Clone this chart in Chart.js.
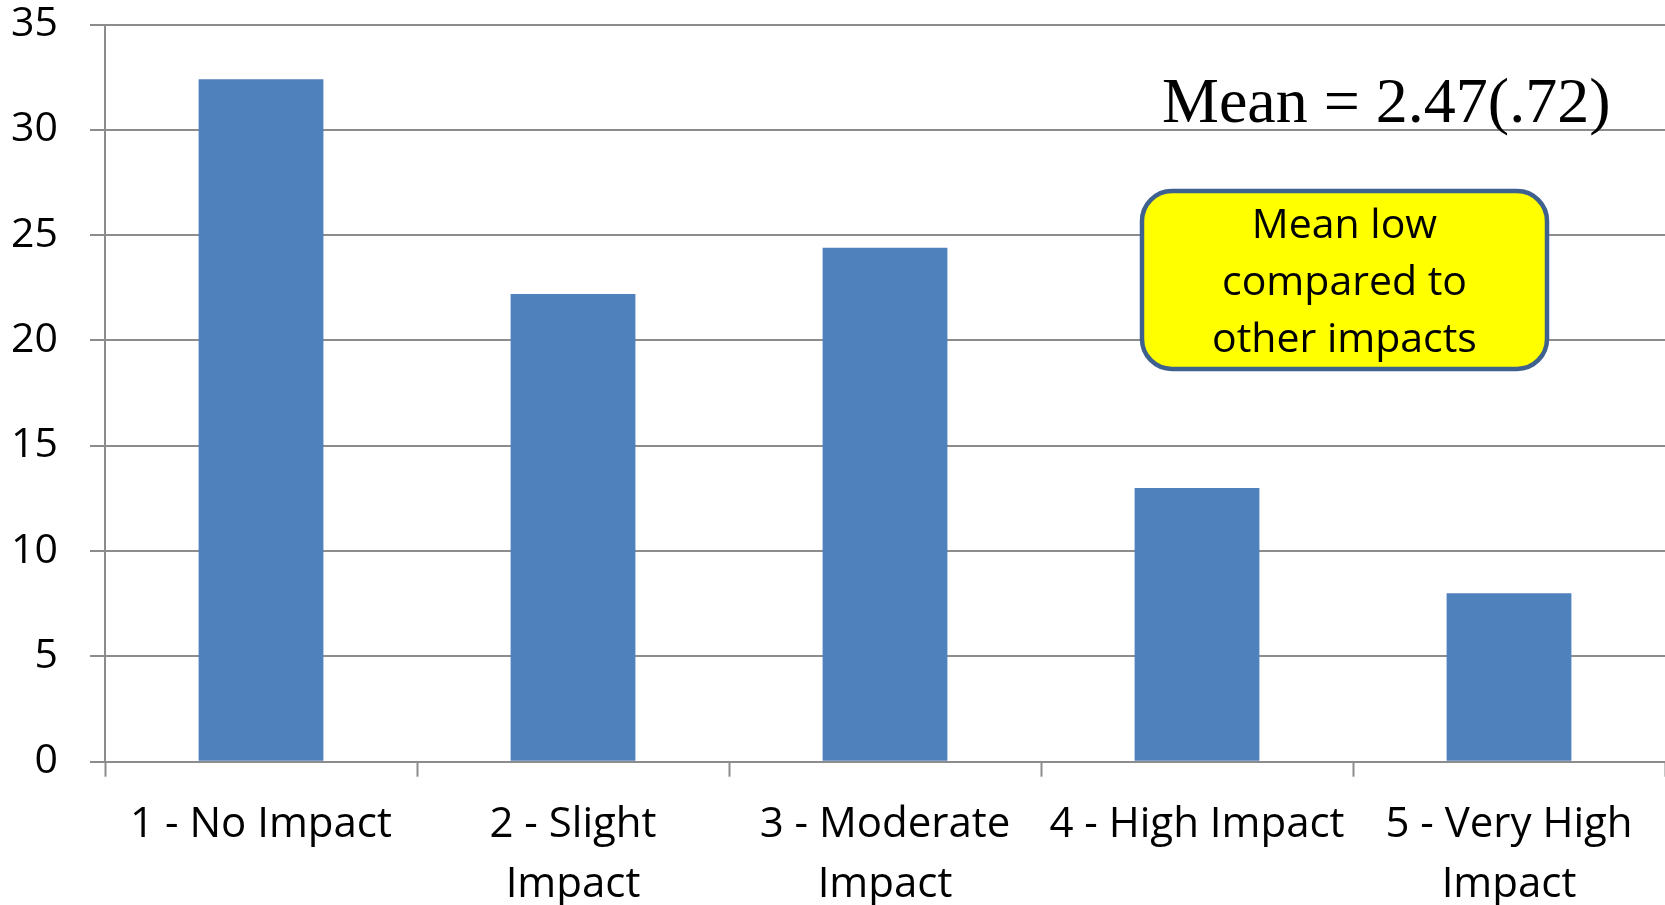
<!DOCTYPE html>
<html>
<head>
<meta charset="utf-8">
<script src="https://cdn.jsdelivr.net/npm/chart.js@4/dist/chart.umd.min.js"></script>
<style>
  html, body { margin: 0; padding: 0; background: #ffffff; }
  #wrap { width: 1665px; height: 905px; }
</style>
</head>
<body>
<div id="wrap"><canvas id="c" width="1665" height="905"></canvas></div>
<script>
const categories = [
  ['1 - No Impact'],
  ['2 - Slight', 'Impact'],
  ['3 - Moderate', 'Impact'],
  ['4 - High Impact'],
  ['5 - Very High', 'Impact']
];
const percentages = [32.4, 22.2, 24.4, 13.0, 8.0];
const yTicks = [0, 5, 10, 15, 20, 25, 30, 35];
const meanLabel = 'Mean = 2.47(.72)';
const noteLines = ['Mean low', 'compared to', 'other impacts'];

const FONT = '"Open Sans", sans-serif';
const GRID = '#8c8c8c';

const annotationPlugin = {
  id: 'notes',
  afterDraw(chart) {
    const ctx = chart.ctx;
    ctx.save();
    // Mean text
    ctx.fillStyle = '#000';
    ctx.font = '64px "Liberation Serif", "Times New Roman", serif';
    ctx.textAlign = 'left';
    ctx.textBaseline = 'alphabetic';
    ctx.fillText(meanLabel, 1162, 122);
    // yellow box
    const bx = 1142, by = 191, bw = 405, bh = 178, r = 30;
    ctx.beginPath();
    ctx.roundRect(bx, by, bw, bh, r);
    ctx.fillStyle = '#ffff00';
    ctx.fill();
    ctx.lineWidth = 4.5;
    ctx.strokeStyle = '#3e6190';
    ctx.stroke();
    ctx.fillStyle = '#000';
    ctx.font = '41px ' + FONT;
    ctx.textAlign = 'center';
    ctx.textBaseline = 'middle';
    noteLines.forEach((t, i) => ctx.fillText(t, bx + bw / 2, 226 + i * 57));
    ctx.restore();
  }
};

new Chart(document.getElementById('c'), {
  type: 'bar',
  data: {
    labels: categories,
    datasets: [{
      data: percentages,
      backgroundColor: '#4f81bd',
      borderWidth: 0,
      barPercentage: 0.4,
      categoryPercentage: 1.0
    }]
  },
  options: {
    responsive: false,
    animation: false,
    devicePixelRatio: 1,
    layout: { padding: { top: 24.5, right: 0, left: 0, bottom: 0 } },
    plugins: { legend: { display: false }, tooltip: { enabled: false } },
    scales: {
      x: {
        offset: true,
        grid: {
          offset: true,
          drawOnChartArea: false,
          drawTicks: true,
          tickLength: 15,
          tickWidth: 2,
          tickColor: GRID
        },
        border: { display: true, color: GRID, width: 2 },
        ticks: {
          color: '#000',
          font: { family: FONT, size: 42, lineHeight: 1.43 },
          maxRotation: 0,
          autoSkip: false,
          padding: 18
        },
        afterFit(scale) {
          scale.height = 143.3;
          scale.paddingLeft = 0;
          scale.paddingRight = 0;
        }
      },
      y: {
        min: 0,
        max: 35,
        afterBuildTicks(scale) { scale.ticks = yTicks.map(v => ({ value: v })); },
        grid: {
          color: GRID,
          lineWidth: 2,
          drawTicks: true,
          tickLength: 15,
          tickColor: GRID
        },
        border: { display: true, color: GRID, width: 2 },
        ticks: {
          color: '#000',
          font: { family: FONT, size: 41 },
          padding: 32
        },
        afterFit(scale) {
          scale.width = 105;
          scale.paddingTop = 0;
          scale.paddingBottom = 0;
        }
      }
    }
  },
  plugins: [annotationPlugin]
});
</script>
</body>
</html>
